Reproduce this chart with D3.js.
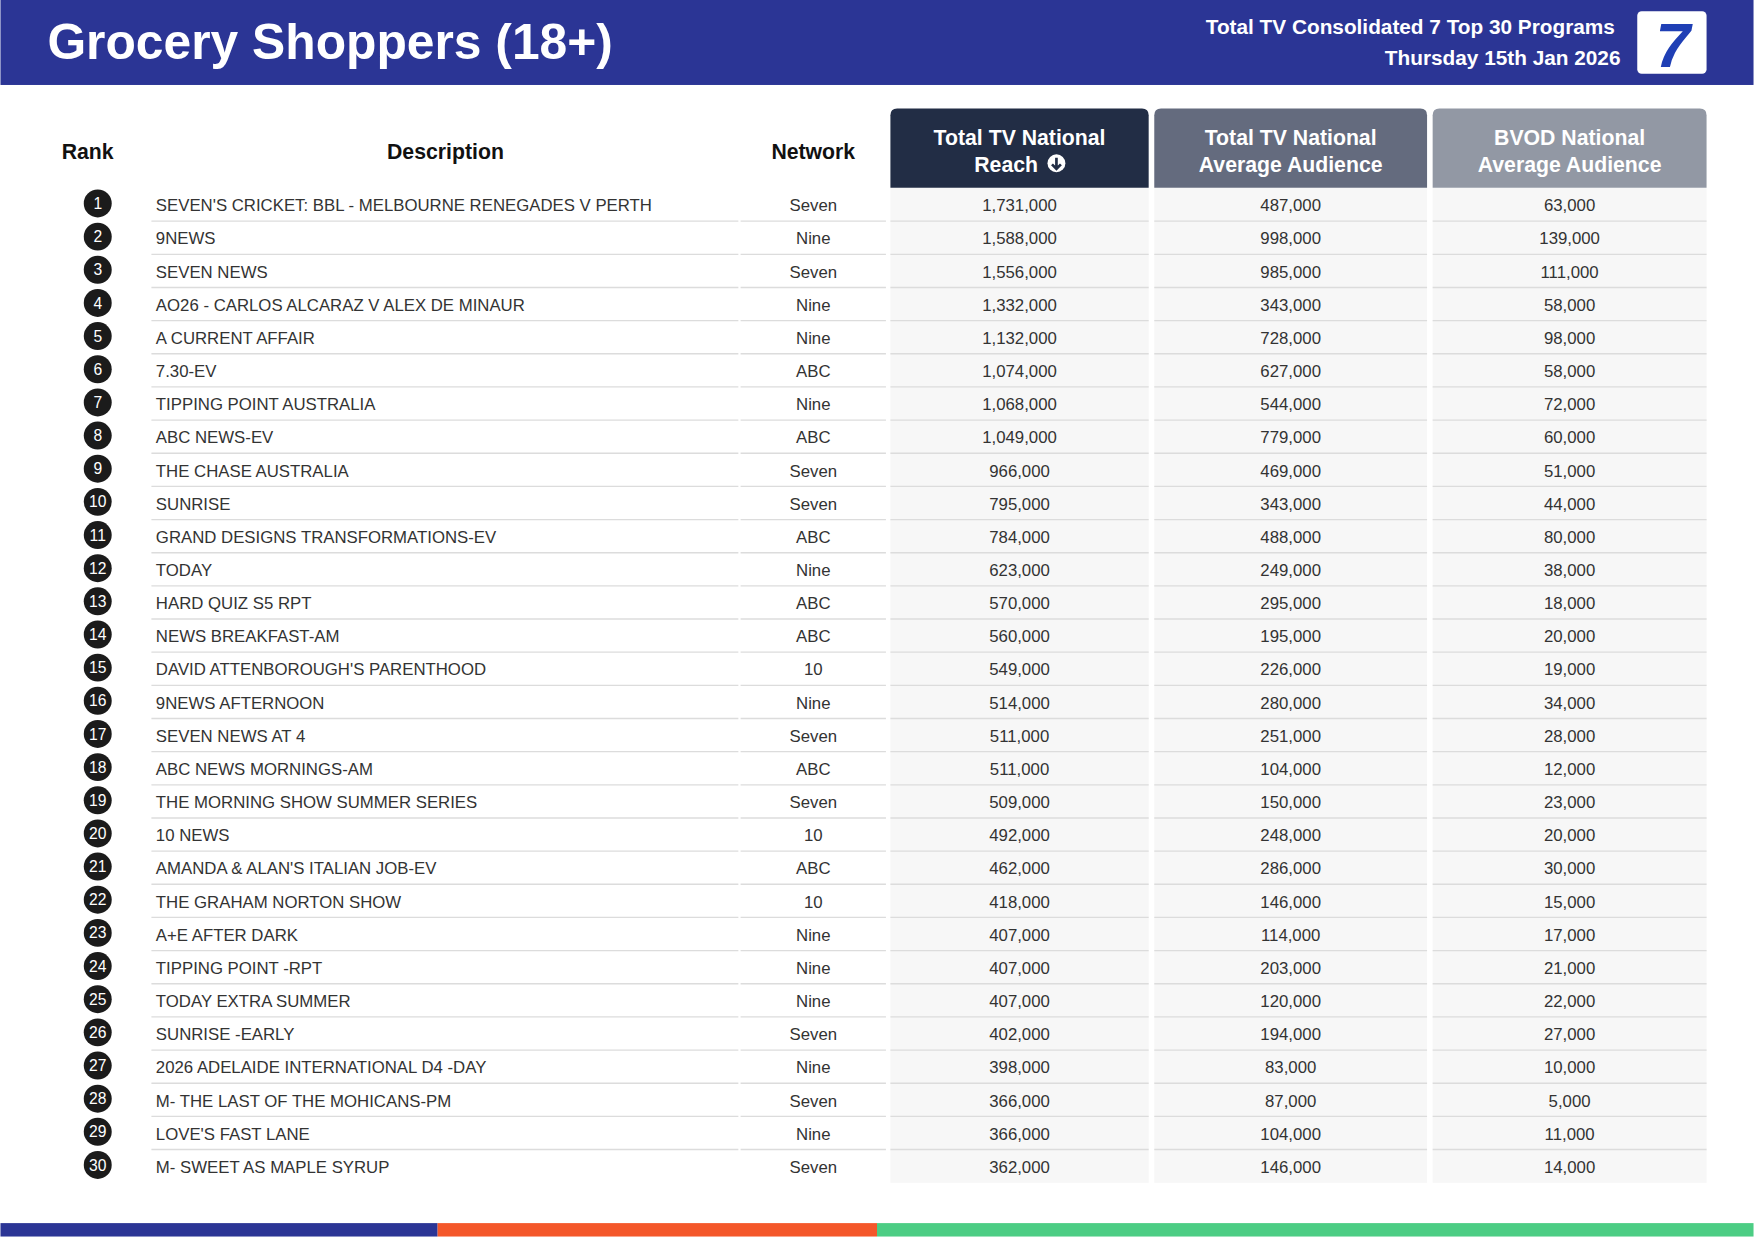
<!DOCTYPE html>
<html><head><meta charset="utf-8">
<script src="https://cdn.jsdelivr.net/npm/d3@7"></script>
<style>body{margin:0;background:#fff}svg{display:block}</style></head>
<body><svg id="c" width="1754" height="1241" viewBox="0 0 1568 1110"></svg>
<script>
const descriptions=["SEVEN'S CRICKET: BBL - MELBOURNE RENEGADES V PERTH","9NEWS","SEVEN NEWS","AO26 - CARLOS ALCARAZ V ALEX DE MINAUR","A CURRENT AFFAIR","7.30-EV","TIPPING POINT AUSTRALIA","ABC NEWS-EV","THE CHASE AUSTRALIA","SUNRISE","GRAND DESIGNS TRANSFORMATIONS-EV","TODAY","HARD QUIZ S5 RPT","NEWS BREAKFAST-AM","DAVID ATTENBOROUGH'S PARENTHOOD","9NEWS AFTERNOON","SEVEN NEWS AT 4","ABC NEWS MORNINGS-AM","THE MORNING SHOW SUMMER SERIES","10 NEWS","AMANDA & ALAN'S ITALIAN JOB-EV","THE GRAHAM NORTON SHOW","A+E AFTER DARK","TIPPING POINT -RPT","TODAY EXTRA SUMMER","SUNRISE -EARLY","2026 ADELAIDE INTERNATIONAL D4 -DAY","M- THE LAST OF THE MOHICANS-PM","LOVE'S FAST LANE","M- SWEET AS MAPLE SYRUP"];
const networks=["Seven","Nine","Seven","Nine","Nine","ABC","Nine","ABC","Seven","Seven","ABC","Nine","ABC","ABC","10","Nine","Seven","ABC","Seven","10","ABC","10","Nine","Nine","Nine","Seven","Nine","Seven","Nine","Seven"];
const reach=[1731000,1588000,1556000,1332000,1132000,1074000,1068000,1049000,966000,795000,784000,623000,570000,560000,549000,514000,511000,511000,509000,492000,462000,418000,407000,407000,407000,402000,398000,366000,366000,362000];
const avgAud=[487000,998000,985000,343000,728000,627000,544000,779000,469000,343000,488000,249000,295000,195000,226000,280000,251000,104000,150000,248000,286000,146000,114000,203000,120000,194000,83000,87000,104000,146000];
const bvod=[63000,139000,111000,58000,98000,58000,72000,60000,51000,44000,80000,38000,18000,20000,19000,34000,28000,12000,23000,20000,30000,15000,17000,21000,22000,27000,10000,5000,11000,14000];
const headers=["Rank","Description","Network"];
const boxHeaders=[["Total TV National","Reach"],["Total TV National","Average Audience"],["BVOD National","Average Audience"]];

(function(){
const svg=d3.select("#c");
const F="Liberation Sans, Arial, sans-serif";
const fmt=d3.format(",");
const ranks=d3.range(1,31);
const y=d3.scalePoint().domain(ranks).range([183,1043]);
const step=y.step();

svg.append("rect").attr("x",0).attr("y",0).attr("width",1568).attr("height",76).attr("fill","#2b3595");
svg.append("text").attr("x",42).attr("y",53).attr("fill","#fff").attr("font-family",F).attr("font-weight","bold").attr("font-size",44.5).text("Grocery Shoppers (18+)");
svg.append("text").attr("x",1444).attr("y",30).attr("text-anchor","end").attr("fill","#fff").attr("font-family",F).attr("font-weight","bold").attr("font-size",18.6).text("Total TV Consolidated 7 Top 30 Programs");
svg.append("text").attr("x",1449).attr("y",58).attr("text-anchor","end").attr("fill","#fff").attr("font-family",F).attr("font-weight","bold").attr("font-size",18.6).text("Thursday 15th Jan 2026");
svg.append("rect").attr("x",1464).attr("y",10).attr("width",62).attr("height",56).attr("rx",4).attr("fill","#fff");
svg.append("text").attr("x",1496).attr("y",60).attr("text-anchor","middle").attr("fill","#1f3fb5").attr("font-family",F).attr("font-weight","bold").attr("font-style","italic").attr("font-size",56).text("7");

const hx=[78,398,727];
headers.forEach((h,i)=>svg.append("text").attr("x",hx[i]).attr("y",142).attr("text-anchor","middle").attr("font-family",F).attr("font-weight","bold").attr("font-size",19).attr("fill","#111").text(h));

const cols=[{x0:796,x1:1027,c:"#222d45",v:reach},{x0:1032,x1:1276,c:"#646b7e",v:avgAud},{x0:1281,x1:1526,c:"#9298a4",v:bvod}];
const yTop=97,hb=168,yBot=1058;
cols.forEach((c,i)=>{
  const w=c.x1-c.x0,r=6;
  svg.append("rect").attr("x",c.x0).attr("y",hb).attr("width",w).attr("height",yBot-hb).attr("fill","#f7f7f7");
  svg.append("path").attr("fill",c.c).attr("d",`M${c.x0},${hb}V${yTop+r}Q${c.x0},${yTop} ${c.x0+r},${yTop}H${c.x1-r}Q${c.x1},${yTop} ${c.x1},${yTop+r}V${hb}Z`);
  const cx=(c.x0+c.x1)/2;
  svg.append("text").attr("x",cx).attr("y",130).attr("text-anchor","middle").attr("fill","#fff").attr("font-family",F).attr("font-weight","bold").attr("font-size",19).text(boxHeaders[i][0]);
  svg.append("text").attr("x",i==0?cx-12:cx).attr("y",154).attr("text-anchor","middle").attr("fill","#fff").attr("font-family",F).attr("font-weight","bold").attr("font-size",19).text(boxHeaders[i][1]);
  if(i==0){
    svg.append("circle").attr("cx",cx+33).attr("cy",146).attr("r",8).attr("fill","#fff");
    svg.append("path").attr("d",`M${cx+33},${141}V${151}M${cx+29},${147}L${cx+33},${151}L${cx+37},${147}`).attr("stroke",c.c).attr("stroke-width",2.4).attr("fill","none");
  }
});

const segs=[[135,660],[662,792],[796,1027],[1032,1276],[1281,1526]];
ranks.slice(0,29).forEach(r=>{
  segs.forEach(s=>svg.append("line").attr("x1",s[0]).attr("x2",s[1]).attr("y1",y(r)+step/2).attr("y2",y(r)+step/2).attr("stroke","#dcdcdc").attr("stroke-width",1.2));
});

const rows=svg.selectAll("g.row").data(ranks).join("g").attr("transform",d=>`translate(0,${y(d)})`);
rows.append("circle").attr("cx",87).attr("cy",-1).attr("r",12.5).attr("fill","#1b1b1b");
rows.append("text").attr("x",87).attr("y",4).attr("text-anchor","middle").attr("fill","#fff").attr("font-family",F).attr("font-size",14).text(d=>d);
const tx=(sel,x,anchor,f)=>sel.append("text").attr("x",x).attr("y",6).attr("text-anchor",anchor).attr("fill","#333").attr("font-family",F).attr("font-size",15).text(f);
tx(rows,139,"start",d=>descriptions[d-1]);
tx(rows,727,"middle",d=>networks[d-1]);
cols.forEach(c=>tx(rows,(c.x0+c.x1)/2,"middle",d=>fmt(c.v[d-1])));

const bar=[["#2b3595",0,391],["#f4572a",391,784],["#4ccd84",784,1568]];
bar.forEach(b=>svg.append("rect").attr("x",b[1]).attr("y",1094).attr("width",b[2]-b[1]).attr("height",12).attr("fill",b[0]));
})();
</script></body></html>
